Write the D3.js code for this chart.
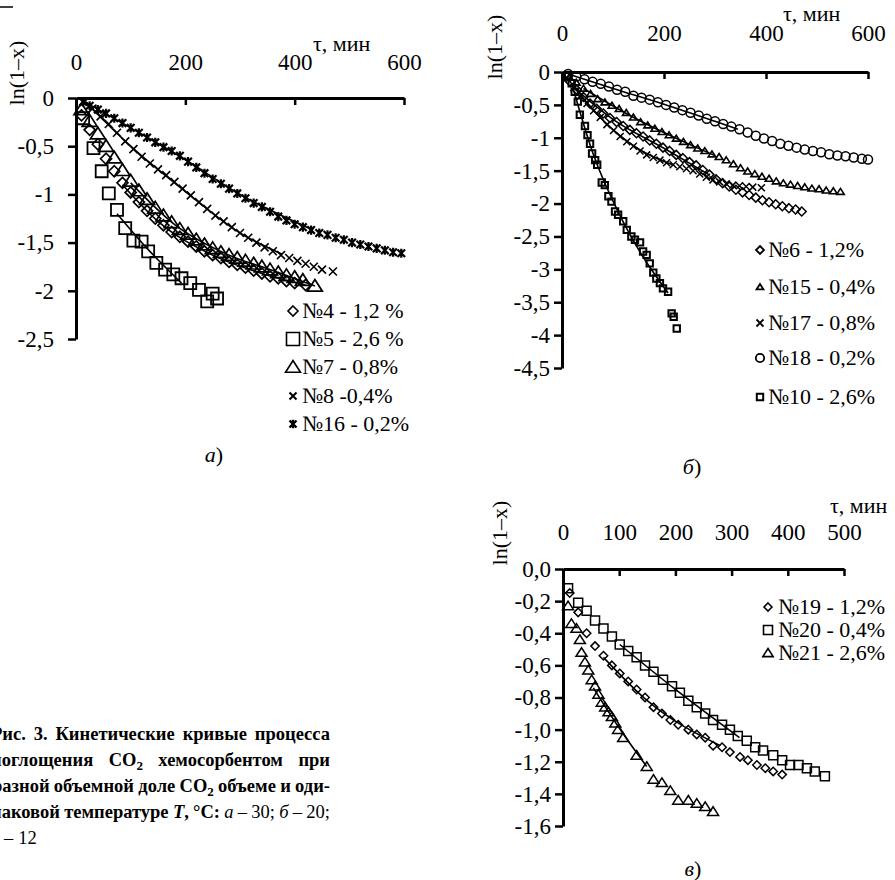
<!DOCTYPE html>
<html>
<head>
<meta charset="utf-8">
<script src="https://cdn.jsdelivr.net/npm/d3@7"></script>
<style>
body{margin:0;background:#fff;}
svg{display:block;font-family:"Liberation Serif","Times New Roman",serif;}
</style>
</head>
<body>
<svg id="chart" width="895" height="880"></svg>
<script>
// ---- panel a (T = 30 C) ----
var xTicksA = [0,200,400,600];
var yTicksA = [0,-0.5,-1,-1.5,-2,-2.5];
var legA = ['№4 - 1,2 %','№5 - 2,6 %','№7 - 0,8%','№8 -0,4%','№16 - 0,2%'];

var tauA4 = [10,25,40,55,70,85,100,115,130,145,160,175,190,205,220,235,250,265,280,295,310,325,340,355,370,385,400,420];
var valA4 = [-0.18,-0.33,-0.48,-0.63,-0.76,-0.88,-0.98,-1.08,-1.17,-1.25,-1.32,-1.39,-1.44,-1.49,-1.54,-1.59,-1.63,-1.66,-1.70,-1.73,-1.76,-1.79,-1.82,-1.85,-1.87,-1.90,-1.92,-1.94];
var tauA5 = [13,32,47,60,75,90,105,120,132,147,163,178,193,209,225,240,250,258];
var valA5 = [-0.21,-0.52,-0.76,-0.99,-1.16,-1.35,-1.48,-1.49,-1.59,-1.71,-1.78,-1.83,-1.87,-1.92,-1.99,-2.11,-2.03,-2.08];
var tauA7 = [10,25,40,55,70,85,100,115,130,145,160,175,190,205,220,235,250,265,280,295,310,325,340,355,370,385,400,415,437];
var valA7 = [-0.12,-0.24,-0.37,-0.50,-0.62,-0.75,-0.86,-0.96,-1.05,-1.14,-1.22,-1.29,-1.36,-1.41,-1.47,-1.52,-1.56,-1.60,-1.63,-1.66,-1.69,-1.72,-1.75,-1.78,-1.81,-1.84,-1.86,-1.89,-1.95];
var tauA8 = [15,30,45,60,75,90,105,120,135,150,165,180,195,210,225,240,255,270,285,300,315,330,345,360,375,390,405,420,435,450,470];
var valA8 = [-0.04,-0.11,-0.19,-0.27,-0.36,-0.45,-0.53,-0.61,-0.68,-0.74,-0.80,-0.87,-0.94,-1.01,-1.08,-1.15,-1.22,-1.28,-1.34,-1.40,-1.45,-1.50,-1.55,-1.59,-1.63,-1.66,-1.69,-1.72,-1.75,-1.78,-1.80];
var tauA16 = [13,25,40,55,70,85,100,115,130,145,160,175,190,205,220,235,250,265,280,295,310,325,340,355,370,385,400,415,430,445,460,475,490,505,520,535,550,565,580,595];
var valA16 = [-0.04,-0.08,-0.12,-0.16,-0.21,-0.26,-0.31,-0.36,-0.41,-0.46,-0.51,-0.55,-0.60,-0.66,-0.72,-0.78,-0.84,-0.89,-0.94,-0.99,-1.04,-1.09,-1.13,-1.18,-1.23,-1.27,-1.31,-1.34,-1.37,-1.40,-1.42,-1.45,-1.47,-1.50,-1.52,-1.54,-1.56,-1.58,-1.60,-1.61];

var fitA4Tau = [85,150,250,340,420],  fitA4Val = [-0.90,-1.28,-1.63,-1.82,-1.94];
var fitA7Tau = [100,180,280,360,437], fitA7Val = [-0.88,-1.31,-1.63,-1.79,-1.95];
var fitA5Tau = [75,130,193],          fitA5Val = [-1.20,-1.56,-1.92];
var fitA8Tau = [20,100,200,300,377],  fitA8Val = [-0.06,-0.50,-0.97,-1.40,-1.62];
var fitA16Tau = [13,100,200,300,434], fitA16Val = [-0.03,-0.31,-0.64,-1.00,-1.37];

// ---- panel b (T = 20 C) ----
var xTicksB = [0,200,400,600];
var yTicksB = [0,-0.5,-1,-1.5,-2,-2.5,-3,-3.5,-4,-4.5];
var legB = ['№6 - 1,2%','№15 - 0,4%','№17 - 0,8%','№18 - 0,2%','№10 - 2,6%'];

var tauB6 = [16,29,42,55,68,81,94,107,120,133,146,159,172,185,198,211,224,237,250,263,276,289,302,315,328,341,354,367,380,393,406,419,432,445,458,470];
var valB6 = [-0.15,-0.27,-0.38,-0.48,-0.56,-0.63,-0.70,-0.76,-0.82,-0.88,-0.93,-0.98,-1.04,-1.09,-1.15,-1.20,-1.26,-1.31,-1.37,-1.42,-1.49,-1.56,-1.63,-1.69,-1.74,-1.79,-1.83,-1.87,-1.91,-1.95,-1.98,-2.01,-2.04,-2.07,-2.09,-2.12];
var tauB15 = [14,28,42,56,70,84,98,112,126,140,154,168,182,196,210,224,238,252,266,280,294,308,322,336,350,364,378,392,406,420,434,448,462,476,490,504,518,532,546];
var valB15 = [-0.08,-0.16,-0.25,-0.33,-0.41,-0.46,-0.51,-0.56,-0.62,-0.69,-0.76,-0.81,-0.86,-0.91,-0.96,-1.01,-1.06,-1.11,-1.16,-1.20,-1.25,-1.29,-1.34,-1.40,-1.46,-1.51,-1.55,-1.59,-1.62,-1.66,-1.69,-1.71,-1.73,-1.75,-1.77,-1.78,-1.80,-1.81,-1.82];
var tauB17 = [10,23,36,49,62,75,88,101,114,127,140,153,166,179,192,205,218,231,244,257,270,283,296,309,322,335,348,361,374,391];
var valB17 = [-0.09,-0.24,-0.37,-0.48,-0.59,-0.69,-0.80,-0.89,-0.98,-1.06,-1.13,-1.20,-1.26,-1.30,-1.34,-1.38,-1.41,-1.44,-1.47,-1.50,-1.55,-1.60,-1.64,-1.67,-1.70,-1.72,-1.73,-1.74,-1.75,-1.76];
var tauB18 = [12,28,44,60,76,92,108,124,140,156,172,188,204,220,236,252,268,284,300,316,332,348,364,380,396,412,428,444,460,476,492,508,524,540,556,572,588,600];
var valB18 = [-0.03,-0.07,-0.11,-0.15,-0.18,-0.22,-0.27,-0.30,-0.36,-0.39,-0.42,-0.46,-0.50,-0.54,-0.58,-0.62,-0.66,-0.71,-0.75,-0.79,-0.83,-0.87,-0.92,-0.97,-1.01,-1.05,-1.09,-1.12,-1.15,-1.18,-1.20,-1.22,-1.25,-1.27,-1.28,-1.30,-1.32,-1.33];
var tauB10 = [12,19,25,31,35,45,50,55,59,65,69,78,84,91,97,104,110,120,127,136,143,153,159,166,172,179,185,192,198,208,215,219,225];
var valB10 = [-0.06,-0.17,-0.30,-0.45,-0.65,-0.82,-0.96,-1.09,-1.24,-1.34,-1.41,-1.68,-1.72,-1.89,-1.97,-2.12,-2.17,-2.27,-2.40,-2.50,-2.55,-2.59,-2.73,-2.78,-2.91,-3.05,-3.14,-3.21,-3.29,-3.34,-3.67,-3.72,-3.90];

var fitB18Tau = [12,100,200,300,345], fitB18Val = [-0.03,-0.25,-0.49,-0.75,-0.87];
var fitB15Tau = [42,150,250,300],     fitB15Val = [-0.25,-0.73,-1.10,-1.27];
var fitB6Tau = [25,100,200,290],      fitB6Val = [-0.25,-0.72,-1.16,-1.57];
var fitB17Tau = [10,80,150,217],      fitB17Val = [-0.09,-0.73,-1.17,-1.41];
var fitB10Tau = [20,60,120,208],      fitB10Val = [-0.20,-1.22,-2.28,-3.36];

// ---- panel c (T = 12 C) ----
var xTicksC = [0,100,200,300,400,500];
var yTicksC = [0,-0.2,-0.4,-0.6,-0.8,-1.0,-1.2,-1.4,-1.6];
var legC = ['№19 - 1,2%','№20 - 0,4%','№21 - 2,6%'];

var tauC19 = [12,27,42,57,72,87,101,116,131,146,161,176,191,205,223,238,253,267,283,297,315,329,345,360,374,390];
var valC19 = [-0.15,-0.27,-0.40,-0.48,-0.54,-0.60,-0.65,-0.70,-0.75,-0.80,-0.86,-0.90,-0.94,-0.97,-1.00,-1.03,-1.05,-1.10,-1.11,-1.14,-1.17,-1.19,-1.22,-1.24,-1.26,-1.28];
var tauC20 = [9,27,42,57,72,87,101,116,131,146,161,178,194,208,223,238,253,267,283,297,311,327,342,356,374,390,404,419,434,448,466];
var valC20 = [-0.12,-0.21,-0.26,-0.32,-0.37,-0.42,-0.47,-0.51,-0.55,-0.60,-0.64,-0.69,-0.73,-0.77,-0.82,-0.86,-0.90,-0.94,-0.97,-1.00,-1.04,-1.07,-1.11,-1.13,-1.16,-1.19,-1.22,-1.22,-1.24,-1.26,-1.29];
var tauC21 = [9,15,24,30,33,39,45,51,57,63,69,75,81,87,93,98,107,131,149,161,176,191,205,223,238,253,267];
var valC21 = [-0.23,-0.34,-0.37,-0.44,-0.52,-0.58,-0.63,-0.69,-0.73,-0.78,-0.83,-0.86,-0.89,-0.92,-0.96,-1.00,-1.05,-1.16,-1.23,-1.31,-1.33,-1.38,-1.44,-1.44,-1.46,-1.48,-1.51];

var fitC20Tau = [101,200,314], fitC20Val = [-0.47,-0.75,-1.05];
var fitC19Tau = [72,150,280],  fitC19Val = [-0.55,-0.82,-1.10];
var fitC21Tau = [54,100,149],  fitC21Val = [-0.74,-0.99,-1.23];

var svg = d3.select('#chart');

function markerPath(type, r) {
    var cross = 'M'+(-r)+','+(-r)+'L'+r+','+r+'M'+r+','+(-r)+'L'+(-r)+','+r;
    if (type == 'diamond') return 'M0,'+(-r)+'L'+r+',0L0,'+r+'L'+(-r)+',0Z';
    if (type == 'square') return 'M'+(-r)+','+(-r)+'H'+r+'V'+r+'H'+(-r)+'Z';
    if (type == 'triangle') return 'M0,'+(-r)+'L'+(r*1.15)+','+(r*0.8)+'H'+(-r*1.15)+'Z';
    if (type == 'cross') return cross;
    if (type == 'star') return cross+'M0,'+(-r*1.2)+'V'+(r*1.2);
    return 'M'+r+',0A'+r+','+r+' 0 1,1 '+(-r)+',0A'+r+','+r+' 0 1,1 '+r+',0';
}

function commaFmt(d) { return String(d).replace('.', ','); }
function commaFmt1(d) { return d.toFixed(1).replace('.', ','); }

function drawPanel(p) {
    var x = d3.scaleLinear().domain(p.xDomain).range(p.xRange);
    var y = d3.scaleLinear().domain(p.yDomain).range(p.yRange);
    var g = svg.append('g');
    var line = d3.line().x(function(d){ return x(d[0]); }).y(function(d){ return y(d[1]); })
        .curve(d3.curveMonotoneX);

    p.series.forEach(function (s) {
        g.append('g').selectAll('path')
            .data(d3.zip(s.tau, s.val))
            .join('path')
            .attr('transform', function(d){ return 'translate('+x(d[0])+','+y(d[1])+')'; })
            .attr('d', markerPath(s.type, s.r))
            .attr('fill', 'none')
            .attr('stroke', '#000')
            .attr('stroke-width', s.sw);
    });
    p.series.forEach(function (s) {
        if (!s.fitTau) return;
        g.append('path')
            .datum(d3.zip(s.fitTau, s.fitVal))
            .attr('d', line)
            .attr('fill', 'none')
            .attr('stroke', '#000')
            .attr('stroke-width', 1.6);
    });

    var ax = g.append('g')
        .attr('transform', 'translate(0,' + y(0) + ')')
        .call(d3.axisTop(x).tickValues(p.xTicks).tickSizeInner(-7).tickSizeOuter(0)
            .tickPadding(p.xPad).tickFormat(d3.format('d')));
    var ay = g.append('g')
        .attr('transform', 'translate(' + x(0) + ',0)')
        .call(d3.axisLeft(y).tickValues(p.yTicks).tickSizeInner(8).tickSizeOuter(0)
            .tickPadding(p.yPad).tickFormat(p.yFmt));
    [ax, ay].forEach(function (a) {
        a.attr('font-family', null).attr('font-size', null);
        a.select('.domain').attr('stroke', '#000').attr('stroke-width', 3);
        a.selectAll('.tick line').attr('stroke', '#000').attr('stroke-width', 2.5);
        a.selectAll('.tick text').attr('fill', '#000').style('font-size', '23px');
    });

    g.append('text')
        .attr('transform', 'translate(' + p.yLabel[0] + ',' + p.yLabel[1] + ') rotate(-90)')
        .attr('text-anchor', 'middle')
        .style('font-size', '22px')
        .text('ln(1–x)');
    g.append('text')
        .attr('x', p.xLabel[0]).attr('y', p.xLabel[1])
        .style('font-size', '22px')
        .text('τ, мин');

    // legend
    p.series.forEach(function (s, i) {
        var ly = p.legY[i];
        g.append('path')
            .attr('transform', 'translate(' + p.legX + ',' + ly + ')')
            .attr('d', markerPath(s.type, s.lr))
            .attr('fill', 'none').attr('stroke', '#000').attr('stroke-width', s.lsw || 1.6);
        g.append('text')
            .attr('x', p.legX + p.legGap).attr('y', ly + 7)
            .style('font-size', '22px')
            .text(p.legend[i]);
    });

    var pl = g.append('text')
        .attr('x', p.tag[0]).attr('y', p.tag[1])
        .attr('text-anchor', 'middle')
        .style('font-size', '22px');
    pl.append('tspan').style('font-style', 'italic').text(p.tagLetter);
    pl.append('tspan').text(')');
}

drawPanel({
    xDomain: [0, 600], xRange: [76, 404],
    yDomain: [0, -2.5], yRange: [98, 339],
    xTicks: xTicksA, yTicks: yTicksA, yFmt: commaFmt,
    xPad: 28, yPad: 14,
    yLabel: [24, 73], xLabel: [313, 51],
    legX: 293, legGap: 9, legY: [311, 339, 367, 396, 424], legend: legA,
    tag: [214, 462], tagLetter: 'а',
    series: [
        {tau: tauA4, val: valA4, type: 'diamond', r: 5.5, sw: 1.7, lr: 5, fitTau: fitA4Tau, fitVal: fitA4Val},
        {tau: tauA5, val: valA5, type: 'square', r: 6, sw: 1.8, lr: 6.5, fitTau: fitA5Tau, fitVal: fitA5Val},
        {tau: tauA7, val: valA7, type: 'triangle', r: 6.5, sw: 1.7, lr: 6.5, fitTau: fitA7Tau, fitVal: fitA7Val},
        {tau: tauA8, val: valA8, type: 'cross', r: 4, sw: 1.6, lr: 3.5, lsw: 2, fitTau: fitA8Tau, fitVal: fitA8Val},
        {tau: tauA16, val: valA16, type: 'star', r: 3.8, sw: 2.2, lr: 3.5, lsw: 2.4, fitTau: fitA16Tau, fitVal: fitA16Val}
    ]
});

drawPanel({
    xDomain: [0, 600], xRange: [562, 868],
    yDomain: [0, -4.5], yRange: [72, 368],
    xTicks: xTicksB, yTicks: yTicksB, yFmt: commaFmt,
    xPad: 31, yPad: 4,
    yLabel: [502, 47], xLabel: [783, 21],
    legX: 760, legGap: 8, legY: [250, 287, 323, 358, 397], legend: legB,
    tag: [692, 474], tagLetter: 'б',
    series: [
        {tau: tauB6, val: valB6, type: 'diamond', r: 4.5, sw: 1.5, lr: 4, lsw: 1.8, fitTau: fitB6Tau, fitVal: fitB6Val},
        {tau: tauB15, val: valB15, type: 'triangle', r: 3.3, sw: 1.6, lr: 3, lsw: 1.8, fitTau: fitB15Tau, fitVal: fitB15Val},
        {tau: tauB17, val: valB17, type: 'cross', r: 3.5, sw: 1.5, lr: 3.5, lsw: 1.8, fitTau: fitB17Tau, fitVal: fitB17Val},
        {tau: tauB18, val: valB18, type: 'circle', r: 4.5, sw: 1.5, lr: 4.2, lsw: 1.8, fitTau: fitB18Tau, fitVal: fitB18Val},
        {tau: tauB10, val: valB10, type: 'square', r: 3.2, sw: 2, lr: 3.2, lsw: 2, fitTau: fitB10Tau, fitVal: fitB10Val}
    ]
});

drawPanel({
    xDomain: [0, 500], xRange: [563, 844],
    yDomain: [0, -1.6], yRange: [569, 826],
    xTicks: xTicksC, yTicks: yTicksC, yFmt: commaFmt1,
    xPad: 29, yPad: 4,
    yLabel: [507, 533], xLabel: [830, 513],
    legX: 768, legGap: 10, legY: [607, 630, 653], legend: legC,
    tag: [693, 876], tagLetter: 'в',
    series: [
        {tau: tauC19, val: valC19, type: 'diamond', r: 4.2, sw: 1.5, lr: 4, lsw: 1.6, fitTau: fitC19Tau, fitVal: fitC19Val},
        {tau: tauC20, val: valC20, type: 'square', r: 4.5, sw: 1.5, lr: 4.5, lsw: 1.6, fitTau: fitC20Tau, fitVal: fitC20Val},
        {tau: tauC21, val: valC21, type: 'triangle', r: 4.8, sw: 1.5, lr: 4.5, lsw: 1.6, fitTau: fitC21Tau, fitVal: fitC21Val}
    ]
});

// fragment of a rule cut at the top-left corner
svg.append('line').attr('x1', 0).attr('x2', 13).attr('y1', 7).attr('y2', 7)
    .attr('stroke', '#000').attr('stroke-width', 1.5);

// caption, cut at the left edge as in the scan
function B(s) { return [[s, 'b']]; }
var captionLines = [
    {x: -9, justify: true, words: [B('Рис.'), B('3.'), B('Кинетические'), B('кривые'), B('процесса')]},
    {x: -9, justify: true, words: [B('поглощения'), [['CO', 'b'], ['2', 'bs']], B('хемосорбентом'), B('при')]},
    {x: -8, justify: true, words: [B('разной'), B('объемной'), B('доле'), [['CO', 'b'], ['2', 'bs']], B('объеме'), B('и'), B('оди-')]},
    {x: -9, justify: true, words: [B('наковой'), B('температуре'), [['T', 'bi'], [',', 'b']], B('°C:'),
        [['а', 'i']], [['–', 'r']], [['30;', 'r']], [['б', 'i']], [['–', 'r']], [['20;', 'r']]]},
    {x: -9, justify: false, words: [[['в', 'i']], [['–', 'r']], [['12', 'r']]]}
];
var capRight = 330, capTop = 740, capStep = 26;
captionLines.forEach(function (line, i) {
    var g = svg.append('g');
    var nodes = line.words.map(function (w) {
        var t = g.append('text').attr('y', capTop + i * capStep).style('font-size', '18.5px');
        w.forEach(function (part) {
            var ts = t.append('tspan').text(part[0]);
            if (part[1].indexOf('b') >= 0) ts.style('font-weight', 'bold');
            if (part[1].indexOf('i') >= 0) ts.style('font-style', 'italic');
            if (part[1].indexOf('s') >= 0) ts.style('font-size', '13px').attr('dy', 4);
        });
        return t;
    });
    var total = d3.sum(nodes, function (n) { return n.node().getComputedTextLength(); });
    var gap = line.justify ? (capRight - line.x - total) / (nodes.length - 1) : 5;
    var cx = line.x;
    nodes.forEach(function (n) {
        n.attr('x', cx);
        cx += n.node().getComputedTextLength() + gap;
    });
});
</script>
</body>
</html>
